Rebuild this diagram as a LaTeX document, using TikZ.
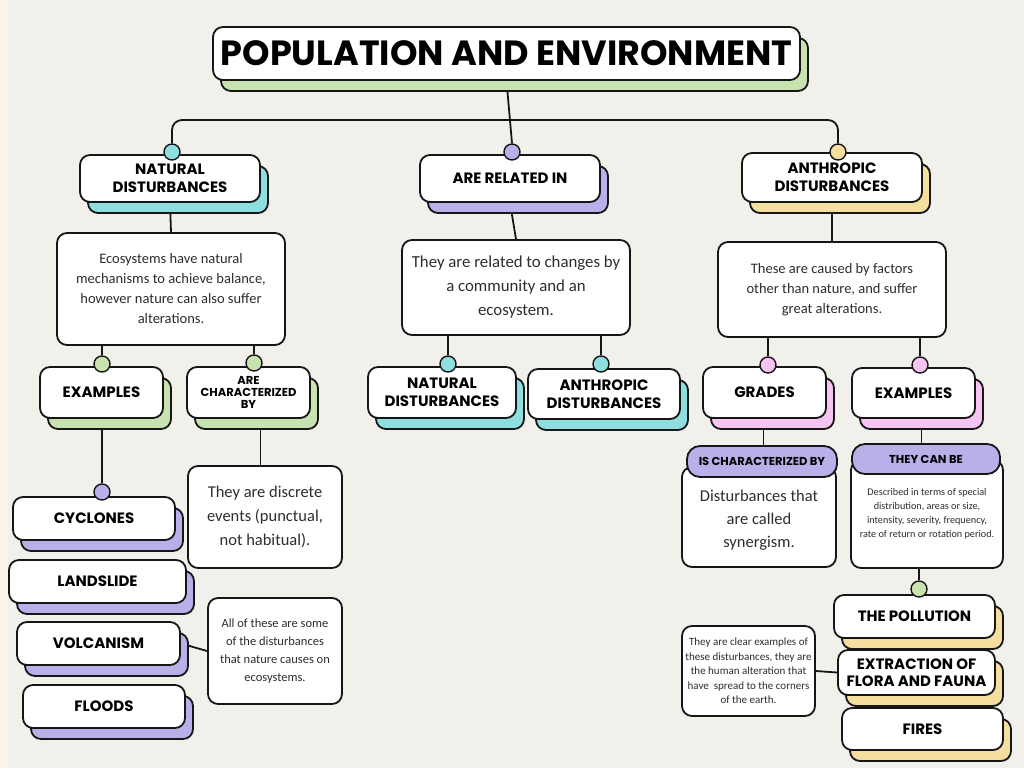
\documentclass[tikz,border=0pt]{standalone}
\usepackage{fontspec}
\setmainfont{Carlito}
\newfontfamily\headfont{Poppins}
\usetikzlibrary{positioning, backgrounds}
\definecolor{paper}{RGB}{242,240,235}
\definecolor{strip}{RGB}{251,244,232}
\definecolor{ink}{RGB}{22,22,22}
\definecolor{bodytxt}{RGB}{45,45,45}
\definecolor{tealsh}{RGB}{142,222,224}
\definecolor{lavsh}{RGB}{184,176,232}
\definecolor{goldsh}{RGB}{244,222,160}
\definecolor{greensh}{RGB}{200,226,176}
\definecolor{pinksh}{RGB}{246,196,242}
\tikzset{
  card/.style={rectangle, draw=ink, fill=white, line width=1.8pt,
    rounded corners=10pt, align=center, inner sep=0pt,
    font=\headfont\bfseries\fontsize{15}{18}\selectfont},
  shade/.style={preaction={draw=ink, fill=#1, line width=1.8pt,
    transform canvas={shift={(8pt,-11pt)}}}},
  note/.style={rectangle, draw=ink, fill=white, line width=1.8pt,
    rounded corners=10pt, align=center, inner sep=0pt, text=bodytxt},
  tag/.style={card, fill=lavsh, rounded corners=13pt,
    font=\headfont\bfseries\fontsize{11.5}{13}\selectfont},
  dot/.style={circle, draw=ink, line width=1.4pt, minimum size=16pt, inner sep=0pt},
  link/.style={draw=ink, line width=1.8pt}
}
\begin{document}
\begin{tikzpicture}[x=1pt, y=-1pt]
  \useasboundingbox (0,0) rectangle (1024,768);

  % Title
  \node[card, shade=greensh, minimum width=587pt, minimum height=53pt,
    font=\headfont\bfseries\fontsize{35}{38}\selectfont] (title) at (506.5,53.5) {POPULATION AND ENVIRONMENT};

  % First level
  \node[card, shade=tealsh, minimum width=180pt, minimum height=47pt] (natdist) at (170,178.5) {NATURAL\\DISTURBANCES};
  \node[card, shade=lavsh, minimum width=180pt, minimum height=47pt] (relin) at (510,178.5) {ARE RELATED IN};
  \node[card, shade=goldsh, minimum width=180pt, minimum height=49pt] (antdist) at (832,177.5) {ANTHROPIC\\DISTURBANCES};

  % Explanations
  \node[note, minimum width=228pt, minimum height=112pt, font=\fontsize{14.5}{20}\selectfont] (txtnat) at (171,289)
    {Ecosystems have natural\\mechanisms to achieve balance,\\however nature can also suffer\\alterations.};
  \node[note, minimum width=228pt, minimum height=95pt, font=\fontsize{16.8}{24}\selectfont] (txtrel) at (516,287.5)
    {They are related to changes by\\a community and an\\ecosystem.};
  \node[note, minimum width=228pt, minimum height=95pt, font=\fontsize{14.5}{20}\selectfont] (txtant) at (832,289.5)
    {These are caused by factors\\other than nature, and suffer\\great alterations.};

  % Second level
  \node[card, shade=greensh, minimum width=123pt, minimum height=51pt] (exA) at (101.5,392.5) {EXAMPLES};
  \node[card, shade=greensh, minimum width=123pt, minimum height=51pt,
    font=\headfont\bfseries\fontsize{11.5}{12}\selectfont] (charby) at (248.5,392.5) {ARE\\CHARACTERIZED\\BY};
  \node[card, shade=tealsh, minimum width=148pt, minimum height=51pt] (natdistb) at (442,392.5) {NATURAL\\DISTURBANCES};
  \node[card, shade=tealsh, minimum width=152pt, minimum height=50pt] (antdistb) at (604,394) {ANTHROPIC\\DISTURBANCES};
  \node[card, shade=pinksh, minimum width=123pt, minimum height=51pt] (grades) at (764.5,392.5) {GRADES};
  \node[card, shade=pinksh, minimum width=123pt, minimum height=50pt] (exB) at (913.5,393) {EXAMPLES};

  % Natural examples
  \node[card, shade=lavsh, minimum width=162pt, minimum height=43pt] (cyc) at (94,518.5) {CYCLONES};
  \node[card, shade=lavsh, minimum width=177pt, minimum height=43pt] (land) at (97.5,581.5) {LANDSLIDE};
  \node[card, shade=lavsh, minimum width=163pt, minimum height=43pt] (volc) at (98.5,643.5) {VOLCANISM};
  \node[card, shade=lavsh, minimum width=162pt, minimum height=43pt] (flood) at (104,706.5) {FLOODS};

  \node[note, minimum width=154pt, minimum height=102pt, font=\fontsize{16.5}{24}\selectfont] (discrete) at (265,517)
    {They are discrete\\events (punctual,\\not habitual).};
  \node[note, minimum width=134pt, minimum height=106pt, font=\fontsize{12.5}{18}\selectfont] (allthese) at (275,651)
    {All of these are some\\of the disturbances\\that nature causes on\\ecosystems.};

  % Anthropic grades and examples
  \node[note, minimum width=154pt, minimum height=100pt, font=\fontsize{16.5}{23}\selectfont] (synbox) at (759,517)
    {\\[-6pt]Disturbances that\\are called\\synergism.};
  \node[tag, minimum width=150pt, minimum height=31pt] (tagA) at (762,461.5) {IS CHARACTERIZED BY};
  \node[note, minimum width=152pt, minimum height=108pt, font=\fontsize{10.2}{14}\selectfont] (desc) at (927,514)
    {Described in terms of special\\distribution, areas or size,\\intensity, severity, frequency,\\rate of return or rotation period.};
  \node[tag, minimum width=148pt, minimum height=30pt] (tagB) at (926,459) {THEY CAN BE};

  \node[card, shade=goldsh, minimum width=161pt, minimum height=43pt] (poll) at (914.5,616.5) {THE POLLUTION};
  \node[card, shade=goldsh, minimum width=157pt, minimum height=45pt, font=\headfont\bfseries\fontsize{15}{17}\selectfont] (extr) at (916.5,672.5) {EXTRACTION OF\\FLORA AND FAUNA};
  \node[card, shade=goldsh, minimum width=161pt, minimum height=42pt] (fires) at (922.5,729) {FIRES};
  \node[note, minimum width=133pt, minimum height=90pt, font=\fontsize{11}{14.5}\selectfont] (clear) at (748.5,671)
    {They are clear examples of\\these disturbances, they are\\the human alteration that\\have~ spread to the corners\\of the earth.};

  % Dots
  \node[dot, fill=tealsh] (dnat) at (172,152) {};
  \node[dot, fill=lavsh] (drel) at (512,152) {};
  \node[dot, fill=goldsh] (dant) at (838,152) {};
  \node[dot, fill=greensh] (dexa) at (102,364) {};
  \node[dot, fill=greensh] (dchar) at (254,363) {};
  \node[dot, fill=tealsh] (dnatb) at (448,364) {};
  \node[dot, fill=tealsh] (dantb) at (601,364) {};
  \node[dot, fill=pinksh] (dgr) at (768,365) {};
  \node[dot, fill=pinksh] (dexb) at (920,365) {};
  \node[dot, fill=lavsh] (dcyc) at (102,492) {};
  \node[dot, fill=greensh] (dpoll) at (919,589) {};

  \coordinate (trunk) at (508,120);

  \begin{pgfonlayer}{background}
    \fill[paper] (0,0) rectangle (1024,768);
    \fill[strip] (0,0) rectangle (8,768);
    % Connectors
    \draw[link] (title.south) -- (drel.north);
    \draw[link, rounded corners=10pt] (dnat.north) |- (trunk) -| (dant.north);
    \draw[link] (natdist.south) -- (txtnat.north);
    \draw[link] (relin.south) -- (txtrel.north);
    \draw[link] (antdist.south) -- (txtant.north);
    \draw[link] (dexa.north) -- (dexa.north |- txtnat.south);
    \draw[link] (dchar.north) -- (dchar.north |- txtnat.south);
    \draw[link] (dnatb.north) -- (dnatb.north |- txtrel.south);
    \draw[link] (dantb.north) -- (dantb.north |- txtrel.south);
    \draw[link] (dgr.north) -- (dgr.north |- txtant.south);
    \draw[link] (dexb.north) -- (dexb.north |- txtant.south);
    \draw[link] (dcyc.north) -- (dcyc.north |- exA.south);
    \draw[link] ([xshift=12pt]charby.south) -- ([xshift=12pt]charby.south |- discrete.north);
    \draw[link] (volc.east) -- (allthese.west);
    \draw[link] ([xshift=-1pt]grades.south) -- ([xshift=-1pt]grades.south |- tagA.north);
    \draw[link] ([xshift=8pt]exB.south) -- ([xshift=8pt]exB.south |- tagB.north);
    \draw[link] (dpoll.north) -- (dpoll.north |- desc.south);
    \draw[link] (clear.east) -- (extr.west);
  \end{pgfonlayer}
\end{tikzpicture}
\end{document}
